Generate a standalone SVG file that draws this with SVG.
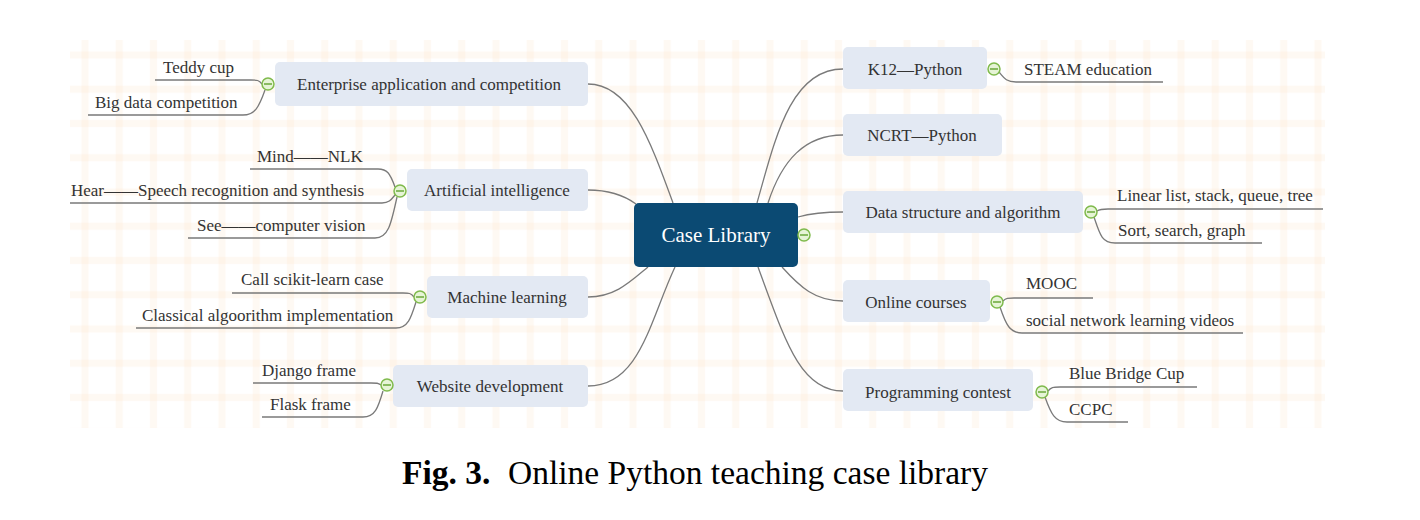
<svg xmlns="http://www.w3.org/2000/svg" width="1420" height="520" viewBox="0 0 1420 520">
<style>
.node rect{fill:#e3e9f3}
.t{font-family:"Liberation Serif","Times New Roman",serif;font-size:17px;fill:#333333}
.mid{text-anchor:middle}
.center rect{fill:#0b4a73}
.ct{font-family:"Liberation Serif","Times New Roman",serif;font-size:21px;fill:#ffffff;text-anchor:middle}
.conn path{fill:none;stroke:#7a7a7a;stroke-width:1.3}
.tog circle{fill:#e6f4d6;stroke:#7fba4c;stroke-width:1.5}
.tog line{stroke:#6aa83a;stroke-width:1.5}
.cap{font-family:"Liberation Serif","Times New Roman",serif;font-size:33.5px;fill:#000000}
</style>
<defs>
<pattern id="grid" patternUnits="userSpaceOnUse" x="67.875" y="37.875" width="34.25" height="34.25">
<rect x="13.6" y="0" width="7" height="34.25" fill="#fadcb8" opacity="0.16"/>
<rect x="0" y="13.6" width="34.25" height="7" fill="#fadcb8" opacity="0.16"/>
</pattern>
</defs>
<rect width="1420" height="520" fill="#ffffff"/>
<rect x="70" y="40" width="1255" height="388" fill="url(#grid)"/>

<g id="connectors" class="conn">
<path d="M 588 84 C 630 84, 650 140, 673 203"/>
<path d="M 588 190 C 610 190, 625 196, 636 204"/>
<path d="M 588 297 C 615 297, 630 282, 648 267"/>
<path d="M 588 386 C 640 386, 650 320, 675 267"/>
<path d="M 757 203 C 775 140, 790 69, 843 69"/>
<path d="M 768 203 C 782 160, 805 135, 843 135"/>
<path d="M 798 217 C 812 213, 825 212, 843 212"/>
<path d="M 782 267 C 800 287, 815 301, 843 301"/>
<path d="M 758 267 C 785 340, 800 391, 843 391"/>
<path d="M 262 84 C 259 80, 257 80, 251 80 H 155"/>
<path d="M 265 90 C 259 107, 255 115, 243 115 H 88"/>
<path d="M 395 187 C 390 173, 387 169, 378 169 H 250"/>
<path d="M 395 195 C 391 200, 389 203, 382 203 H 70"/>
<path d="M 397 197 C 391 225, 388 238, 375 238 H 188"/>
<path d="M 414 297 C 411 293, 409 293, 403 293 H 232"/>
<path d="M 416 302 C 411 318, 408 328, 396 328 H 136"/>
<path d="M 381 385 C 378 383, 377 383, 371 383 H 253"/>
<path d="M 383 391 C 378 408, 375 417, 363 417 H 262"/>
<path d="M 999 72 C 1004 78, 1006 82, 1016 82 H 1163"/>
<path d="M 1097 211 C 1100 209, 1102 209, 1108 209 H 1323"/>
<path d="M 1094 217 C 1100 235, 1102 243, 1115 243 H 1262"/>
<path d="M 1003 301 C 1006 298, 1008 298, 1014 298 H 1093"/>
<path d="M 1000 307 C 1006 325, 1010 333, 1022 333 H 1243"/>
<path d="M 1048 391 C 1051 387, 1053 387, 1060 387 H 1197"/>
<path d="M 1045 397 C 1051 414, 1055 422, 1067 422 H 1128"/>
</g>

<g id="case-library" class="center">
<rect x="634" y="203" width="164" height="64" rx="5"/>
<text class="ct" x="716" y="242">Case Library</text>
</g>

<g id="enterprise" class="node">
<rect x="275" y="62" width="313" height="44" rx="5"/>
<text class="t mid" x="429" y="90">Enterprise application and competition</text>
</g>
<g id="ai" class="node">
<rect x="407" y="169" width="181" height="42" rx="5"/>
<text class="t mid" x="497" y="196">Artificial intelligence</text>
</g>
<g id="ml" class="node">
<rect x="427" y="276" width="161" height="42" rx="5"/>
<text class="t mid" x="507" y="303">Machine learning</text>
</g>
<g id="web" class="node">
<rect x="393" y="365" width="195" height="42" rx="5"/>
<text class="t mid" x="490" y="392">Website development</text>
</g>
<g id="k12" class="node">
<rect x="843" y="47" width="144" height="42" rx="5"/>
<text class="t mid" x="915" y="75">K12—Python</text>
</g>
<g id="ncrt" class="node">
<rect x="843" y="114" width="159" height="42" rx="5"/>
<text class="t mid" x="922" y="141">NCRT—Python</text>
</g>
<g id="ds" class="node">
<rect x="843" y="191" width="240" height="42" rx="5"/>
<text class="t mid" x="963" y="218">Data structure and algorithm</text>
</g>
<g id="online" class="node">
<rect x="843" y="280" width="147" height="42" rx="5"/>
<text class="t mid" x="916" y="308">Online courses</text>
</g>
<g id="contest" class="node">
<rect x="843" y="369" width="190" height="42" rx="5"/>
<text class="t mid" x="938" y="398">Programming contest</text>
</g>

<g id="leaves">
<text class="t" x="163" y="73">Teddy cup</text>
<text class="t" x="95" y="108">Big data competition</text>
<text class="t" x="257" y="162">Mind——NLK</text>
<text class="t" x="71" y="196">Hear——Speech recognition and synthesis</text>
<text class="t" x="197" y="231">See——computer vision</text>
<text class="t" x="241" y="285">Call scikit-learn case</text>
<text class="t" x="142" y="321">Classical algoorithm implementation</text>
<text class="t" x="262" y="376">Django frame</text>
<text class="t" x="270" y="410">Flask frame</text>
<text class="t" x="1024" y="75">STEAM education</text>
<text class="t" x="1117" y="201">Linear list, stack, queue, tree</text>
<text class="t" x="1118" y="236">Sort, search, graph</text>
<text class="t" x="1026" y="289">MOOC</text>
<text class="t" x="1026" y="326">social network learning videos</text>
<text class="t" x="1069" y="379">Blue Bridge Cup</text>
<text class="t" x="1069" y="415">CCPC</text>
</g>

<g id="toggles" class="tog">
<circle cx="268" cy="84" r="6"/><line x1="264" y1="84" x2="272" y2="84"/>
<circle cx="400" cy="191" r="6"/><line x1="396" y1="191" x2="404" y2="191"/>
<circle cx="420" cy="297" r="6"/><line x1="416" y1="297" x2="424" y2="297"/>
<circle cx="387" cy="385" r="6"/><line x1="383" y1="385" x2="391" y2="385"/>
<circle cx="804" cy="235" r="6"/><line x1="800" y1="235" x2="808" y2="235"/>
<circle cx="994" cy="69" r="6"/><line x1="990" y1="69" x2="998" y2="69"/>
<circle cx="1091" cy="212" r="6"/><line x1="1087" y1="212" x2="1095" y2="212"/>
<circle cx="997" cy="302" r="6"/><line x1="993" y1="302" x2="1001" y2="302"/>
<circle cx="1042" cy="392" r="6"/><line x1="1038" y1="392" x2="1046" y2="392"/>
</g>

<g id="caption">
<text class="cap" x="402" y="484" font-weight="bold">Fig. 3.</text>
<text class="cap" x="508" y="484">Online Python teaching case library</text>
</g>
</svg>
